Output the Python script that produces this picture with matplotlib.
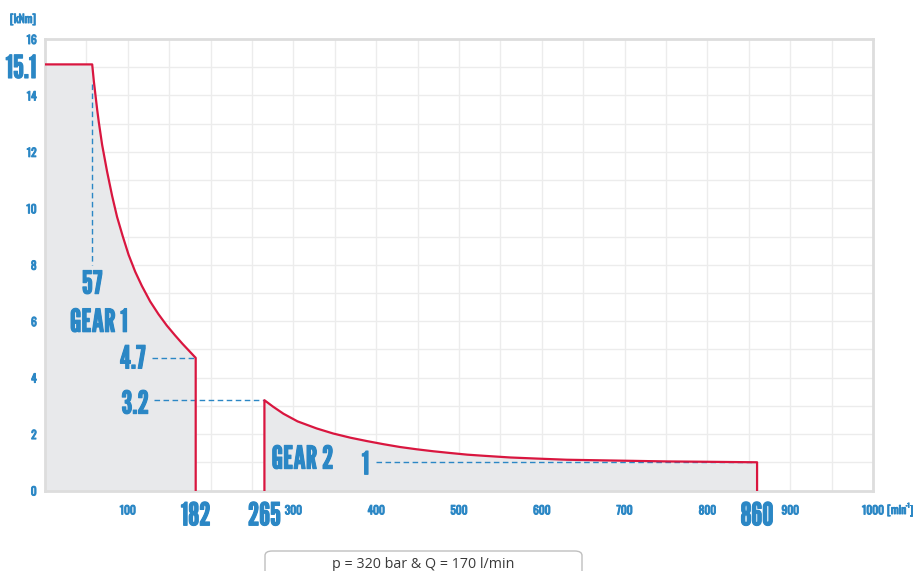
import os
import matplotlib
matplotlib.use("Agg")
import matplotlib.pyplot as plt
from matplotlib import font_manager as fm
from matplotlib import patheffects as pe
from matplotlib.textpath import TextPath
from matplotlib.patches import FancyBboxPatch

# ---- data ----
gear1_speed = [0, 57, 59, 61, 63, 65, 69, 75, 81, 87, 94, 101, 109, 117, 127, 137, 147, 157, 166, 174, 182]
gear1_torque = [15.1, 15.1, 14.5, 14.0, 13.5, 13.05, 12.25, 11.3, 10.45, 9.7, 9.0, 8.35, 7.75, 7.25, 6.7,
                6.25, 5.85, 5.5, 5.2, 4.95, 4.7]
gear2_speed = [265, 275, 288, 305, 328, 348, 369, 389, 409, 429, 449, 469, 489, 510, 530, 562, 595, 630,
               670, 711, 751, 791, 825, 860]
gear2_torque = [3.2, 2.98, 2.72, 2.45, 2.2, 2.02, 1.87, 1.75, 1.64, 1.54, 1.46, 1.39, 1.33, 1.27, 1.23,
                1.17, 1.13, 1.09, 1.07, 1.05, 1.03, 1.02, 1.01, 1.0]
x_ticks = [100, 200, 300, 400, 500, 600, 700, 800, 900, 1000]
x_tick_labels = ["100", "", "300", "400", "500", "600", "700", "800", "900", "1000"]
y_ticks = [0, 2, 4, 6, 8, 10, 12, 14, 16]
big_x_labels = [182, 265, 860]
legend_text = "p = 320 bar & Q = 170 l/min"

RED = "#d9163f"
BLUE = "#2b87c5"
FILL = "#e8e9eb"
GRID = "#ececec"


def pick_font(prefs, tall_families, fallback):
    best = None
    for f in fm.fontManager.ttflist:
        name = f.name.lower()
        base = os.path.basename(f.fname).lower().replace("-", " ").replace("_", " ")
        w = f.weight if isinstance(f.weight, int) else 400
        if "italic" in base or f.style != "normal":
            continue
        for i, p in enumerate(prefs):
            if name.startswith(p) or base.startswith(p) or base.startswith(p.replace(" ", "")):
                target = 500 if p in tall_families else 700
                score = (-i, -abs(w - target))
                if best is None or score > best[0]:
                    best = (score, f)
                break
    if best is not None:
        return fm.FontProperties(fname=best[1].fname)
    return fallback


TALL = ("oswald", "league gothic", "bebas neue", "fjalla one", "pathway gothic", "antonio")
DEFAULT = fm.FontProperties(family="DejaVu Sans", weight="bold")
FP = pick_font(["league gothic", "oswald", "bebas neue", "fjalla one", "pathway gothic", "antonio",
                "roboto condensed", "barlow condensed", "saira condensed", "archivo narrow",
                "pt sans narrow", "liberation sans narrow"], TALL, DEFAULT)
FP_SMALL = pick_font(["oswald", "fjalla one", "roboto condensed", "barlow condensed",
                      "pt sans narrow", "league gothic"], TALL, FP)

BOLD_SMALL = [pe.Stroke(linewidth=0.7, foreground=BLUE), pe.Normal()]
BOLD_BIG = [pe.Stroke(linewidth=0.8, foreground=BLUE), pe.Normal()]


def text_px(text, size, prop):
    ext = TextPath((0, 0), text, size=size, prop=prop).get_extents()
    return ext.width * 100 / 72, ext.height * 100 / 72


def fit_size(text, width_px, height_px, ref, prop):
    wpx = text_px(text, 10, prop)[0] / 10
    hpx = text_px(ref, 10, prop)[1] / 10
    return min(width_px / wpx, height_px / hpx)


BIG = fit_size("GEAR 1", 57, 23.5, "57", FP)
SMALL = fit_size("1000", 21, 10.2, "14", FP_SMALL)

LEG_FP = fm.FontProperties(family=["Open Sans", "Lato", "DejaVu Sans"], weight="normal")
LEG_SIZE = min(179 / (text_px(legend_text, 10, LEG_FP)[0] / 10), 10.5)

fig = plt.figure(figsize=(9.15, 5.71), dpi=100)
ax = fig.add_axes([45 / 915, 1 - 490.5 / 571, (873 - 45) / 915, (490.5 - 39) / 571])
ax.set_xlim(0, 1000)
ax.set_ylim(0, 16)

for gx in range(50, 1000, 50):
    ax.axvline(gx, color=GRID, lw=1, zorder=0)
for gy in range(1, 16):
    ax.axhline(gy, color=GRID, lw=1, zorder=0)

ax.fill_between(gear1_speed, gear1_torque, 0, color=FILL, lw=0, zorder=1)
ax.fill_between(gear2_speed, gear2_torque, 0, color=FILL, lw=0, zorder=1)

ax.plot(gear1_speed + [gear1_speed[-1]], gear1_torque + [0], color=RED, lw=1.6, zorder=4)
ax.plot([gear2_speed[0]] + gear2_speed + [gear2_speed[-1]], [0] + gear2_torque + [0],
        color=RED, lw=1.6, zorder=4)

dash = dict(color=BLUE, lw=1.0, ls=(0, (4, 2.5)), zorder=3)
ax.plot([57, 57], [14.4, 8.0], **dash)
ax.plot([129, 181], [4.7, 4.7], **dash)
ax.plot([132, 264], [3.2, 3.2], **dash)
ax.plot([400, 858], [1.0, 1.0], **dash)

for s in ax.spines.values():
    s.set_color("#dddddd")
    s.set_linewidth(2)

ax.set_xticks(x_ticks)
ax.set_xticklabels(x_tick_labels)
ax.set_yticks(y_ticks)
ax.tick_params(length=0, labelcolor=BLUE)
ax.tick_params(axis="x", pad=10)
ax.tick_params(axis="y", pad=6)
for lab in ax.get_xticklabels() + ax.get_yticklabels():
    lab.set_fontproperties(FP_SMALL)
    lab.set_fontsize(SMALL)
    lab.set_path_effects(BOLD_SMALL)
for lab in ax.get_xticklabels():
    lab.set_verticalalignment("top")

big = dict(fontproperties=FP, color=BLUE, zorder=5, path_effects=BOLD_BIG)


def bigtext(x, y, s, **kw):
    t = ax.text(x, y, s, **big, **kw)
    t.set_fontsize(BIG)
    return t


bigtext(57, 7.4, "57", ha="center", va="center_baseline")
bigtext(65, 6.05, "GEAR 1", ha="center", va="center_baseline")
bigtext(106, 4.75, "4.7", ha="center", va="center_baseline")
bigtext(109, 3.15, "3.2", ha="center", va="center_baseline")
bigtext(311, 1.2, "GEAR 2", ha="center", va="center_baseline")
bigtext(387, 1.0, "1", ha="center", va="center_baseline")
t = fig.text(21 / 915, 1 - 66 / 571, "15.1", ha="center", va="center_baseline", **big)
t.set_fontsize(BIG)

xf = ax.get_xaxis_transform()
for v in big_x_labels:
    bigtext(v, -0.024, str(v), transform=xf, ha="center", va="top", clip_on=False)

small = dict(color=BLUE, fontproperties=FP_SMALL, path_effects=BOLD_SMALL)
t = fig.text(23 / 915, 1 - 18 / 571, "[kNm]", ha="center", va="center_baseline", **small)
t.set_fontsize(SMALL)

# [min^-1] built from pieces
w1 = text_px("[min", SMALL, FP_SMALL)[0]
w2 = text_px("-1", SMALL * 0.5, FP_SMALL)[0]
x0 = 913 - (w1 + w2 + 1.6 + text_px("]", SMALL, FP_SMALL)[0])
x0 = min(x0, 887)
yb = 1 - 514 / 571
t = fig.text(x0 / 915, yb, "[min", ha="left", va="baseline", **small)
t.set_fontsize(SMALL)
t = fig.text((x0 + w1 + 0.8) / 915, yb + 6.5 / 571, "-1", ha="left", va="baseline", **small)
t.set_fontsize(SMALL * 0.5)
t = fig.text((x0 + w1 + w2 + 1.6) / 915, yb, "]", ha="left", va="baseline", **small)
t.set_fontsize(SMALL)

box = FancyBboxPatch((265 / 915, -0.05), (582 - 265) / 915, 0.05 + (571 - 551) / 571,
                     boxstyle="round,pad=0,rounding_size=0.008", transform=fig.transFigure,
                     facecolor="white", edgecolor="#bfbfbf", lw=1)
fig.patches.append(box)
t = fig.text(423 / 915, 1 - 565 / 571, legend_text, fontproperties=LEG_FP,
             color="#3a3a3a", ha="center", va="center")
t.set_fontsize(LEG_SIZE)

fig.savefig("out.png", dpi=100)
